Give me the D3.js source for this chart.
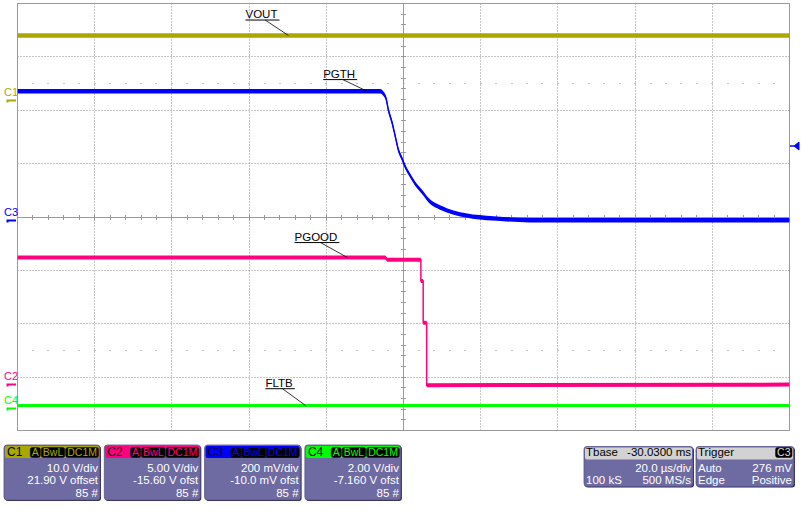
<!DOCTYPE html>
<html lang="en">
<head>
    <meta charset="UTF-8">
    <title>Scope capture</title>
    <script src="https://d3js.org/d3.v7.min.js"></script>
    <style>
        body { margin: 0; background: #fff; }
        svg text { font-family: "Liberation Sans", Arial, sans-serif; }
    </style>
</head>
<body>
    <div id="scope"></div>
    <script>
        // time base, us (20 us/div, trigger in the middle)
        const timeDomain = [-100, 100]
        const timeMajor = d3.range(-100, 101, 20)
        const timeMinor = d3.range(-100, 100.1, 4)

        // channel descriptors
        const channels = ["C1", "C2", "C3", "C4"]
        const voltsPerDiv = [10, 5, 0.2, 2]
        const offsets = [21.9, -15.6, -0.01, -7.16]
        const voltsPerDivText = ["10.0 V/div", "5.00 V/div", "200 mV/div", "2.00 V/div"]
        const offsetText = ["21.90 V offset", "-15.60 V ofst", "-10.0 mV ofst", "-7.160 V ofst"]
        const sweepText = ["85 #", "85 #", "85 #", "85 #"]
        const tagText = ["A", "BwL", "DC1M"]

        // waveforms: time (us) / value (V)
        const voutT = [-100, 100]
        const voutV = [12.1, 12.1]
        const pgthT = [-100, -6.0, -5.2, -4.5, -3.9, -3.0, -2.1, -1.3, -0.4, 0.5, 1.7, 3.0, 4.8, 6.5, 8.7, 11.2, 14.7, 19.0, 24.2, 32.8, 100]
        const pgthV = [0.481, 0.481, 0.472, 0.453, 0.410, 0.366, 0.310, 0.260, 0.229, 0.197, 0.166, 0.135, 0.104, 0.073, 0.051, 0.035, 0.020, 0.010, 0.004, -0.002, -0.002]
        const pgoodT = [-100, -4.7, -4.2, 4.5, 4.5, 5.1, 5.1, 6.0, 6.0, 100]
        const pgoodV = [11.8, 11.8, 11.6, 11.6, 9.6, 9.6, 5.7, 5.7, -0.15, -0.1]
        const fltbT = [-100, 100]
        const fltbV = [0.1, 0.1]

        // trace labels
        const traceNames = ["VOUT", "PGTH", "PGOOD", "FLTB"]
        const labelTimes = [-29.8, -9.4, -14.5, -25.4]

        // timebase / trigger boxes
        const tbaseRows = [["Tbase", "-30.0300 ms"], ["", "20.0 \u00b5s/div"], ["100 kS", "500 MS/s"]]
        const triggerRows = [["Trigger", "C3"], ["Auto", "276 mV"], ["Edge", "Positive"]]
        const triggerLevel = 0.276

        const colors = ["#aaa800", "#ff0080", "#0000ff", "#00ff00"]
        const W = 805, H = 517
        const plot = {left: 17.5, right: 789.5, top: 3.5, bottom: 430.5}

        const svg = d3.select("#scope").append("svg")
            .attr("width", W)
            .attr("height", H)

        const x = d3.scaleLinear().domain(timeDomain).range([plot.left, plot.right])
        const yDiv = d3.scaleLinear().domain([-4, 4]).range([plot.bottom, plot.top])
        // one vertical scale per channel: shown value = V + offset
        const yChan = channels.map((c, i) => d3.scaleLinear()
            .domain([-4 * voltsPerDiv[i] - offsets[i], 4 * voltsPerDiv[i] - offsets[i]])
            .range([plot.bottom, plot.top]))

        const px = v => Math.round(v - 0.5) + 0.5

        // grid
        const grid = svg.append("g")
        grid.selectAll(".vg").data(timeMajor.filter(t => t !== 0 && Math.abs(t) !== 100)).join("line")
            .attr("x1", d => px(x(d))).attr("x2", d => px(x(d)))
            .attr("y1", plot.top).attr("y2", plot.bottom)
            .attr("stroke", "#8c8c8c").attr("stroke-dasharray", "1,2")
        grid.selectAll(".hg").data(d3.range(-3, 4).filter(d => d !== 0)).join("line")
            .attr("class", "hg")
            .attr("x1", plot.left).attr("x2", plot.right)
            .attr("y1", d => px(yDiv(d))).attr("y2", d => px(yDiv(d)))
            .attr("stroke", "#8c8c8c").attr("stroke-dasharray", "1,2")

        // dotted rows at +-2.5 div
        grid.selectAll(".dots").data([2.5, -2.5]).join("g")
            .each(function(r){
                d3.select(this).selectAll("rect").data(timeMinor.slice(1, -1)).join("rect")
                    .attr("x", d => Math.round(x(d)) - 0.5)
                    .attr("y", px(yDiv(r)) - 0.5)
                    .attr("width", 1).attr("height", 1)
                    .attr("fill", "#8c8c8c")
            })

        // centre axes with minor ticks
        const cx = px(x(0)), cy = px(yDiv(0))
        grid.append("line").attr("x1", cx).attr("x2", cx).attr("y1", plot.top).attr("y2", plot.bottom).attr("stroke", "#999")
        grid.append("line").attr("x1", plot.left).attr("x2", plot.right).attr("y1", cy).attr("y2", cy).attr("stroke", "#999")
        grid.selectAll(".tx").data(timeMinor).join("line")
            .attr("x1", d => px(x(d))).attr("x2", d => px(x(d)))
            .attr("y1", cy - 2.5).attr("y2", cy + 2.5).attr("stroke", "#999")
        grid.selectAll(".ty").data(d3.range(-4, 4.01, 0.2)).join("line")
            .attr("y1", d => px(yDiv(d))).attr("y2", d => px(yDiv(d)))
            .attr("x1", cx - 2.5).attr("x2", cx + 2.5).attr("stroke", "#999")

        // frame
        svg.append("rect")
            .attr("x", plot.left).attr("y", plot.top)
            .attr("width", plot.right - plot.left).attr("height", plot.bottom - plot.top)
            .attr("fill", "none").attr("stroke", "#999")

        svg.append("clipPath").attr("id", "clip").append("rect")
            .attr("x", plot.left).attr("y", plot.top)
            .attr("width", plot.right - plot.left).attr("height", plot.bottom - plot.top)

        // traces: noise band + thin line
        const traces = [
            {name: traceNames[0], ch: 0, t: voutT, v: voutV, band: 2.2, curve: d3.curveLinear},
            {name: traceNames[1], ch: 2, t: pgthT, v: pgthV, band: 2.2, curve: d3.curveMonotoneX},
            {name: traceNames[2], ch: 1, t: pgoodT, v: pgoodV, band: 2, curve: d3.curveLinear},
            {name: traceNames[3], ch: 3, t: fltbT, v: fltbV, band: 1.5, curve: d3.curveLinear}
        ]
        const traceG = svg.append("g").attr("clip-path", "url(#clip)")
        traces.forEach(tr => {
            const pts = tr.t.map((t, i) => [t, tr.v[i]])
            const ys = yChan[tr.ch]
            traceG.append("path")
                .attr("d", d3.area().curve(tr.curve)
                    .x(d => x(d[0])).y0(d => ys(d[1]) - tr.band).y1(d => ys(d[1]) + tr.band)(pts))
                .attr("fill", colors[tr.ch])
            traceG.append("path")
                .attr("d", d3.line().curve(tr.curve).x(d => x(d[0])).y(d => ys(d[1]))(pts))
                .attr("fill", "none").attr("stroke", colors[tr.ch]).attr("stroke-width", 1.5)
        })

        // trace labels with leader lines
        const labelOffsets = [{dx: -43, dy: -15.5}, {dx: -44, dy: -11.7}, {dx: -53, dy: -15}, {dx: -40, dy: -16.7}]
        traces.forEach((tr, i) => {
            const t = labelTimes[i]
            const ax = x(t)
            const av = tr.v[d3.bisectRight(tr.t, t) - 1]
            const ay = yChan[tr.ch](av)
            const g = svg.append("g")
            const lx = ax + labelOffsets[i].dx, ly = ay + labelOffsets[i].dy
            const txt = g.append("text")
                .attr("x", lx).attr("y", ly - 2)
                .attr("font-size", 11.5).attr("fill", "#000")
                .text(tr.name)
            const tw = txt.node().getComputedTextLength() + 2
            g.append("line").attr("x1", lx).attr("x2", lx + tw).attr("y1", ly).attr("y2", ly)
                .attr("stroke", "#000")
            g.append("line").attr("x1", lx + tw * 0.58).attr("y1", ly).attr("x2", ax).attr("y2", ay)
                .attr("stroke", "#000").attr("stroke-width", 0.8)
        })

        // ground markers on the left
        channels.forEach((c, i) => {
            const g0 = Math.round(yChan[i](0))
            svg.append("text").attr("x", 4).attr("y", g0 - 4)
                .attr("font-size", 11).attr("fill", colors[i]).text(c)
            svg.append("path").attr("d", `M7.5,${g0 + 2.5} V${g0 + 0.5} H16`)
                .attr("fill", "none").attr("stroke", colors[i]).attr("stroke-width", 2)
        })

        // trigger level marker on the right (C3)
        const ty = yChan[2](triggerLevel)
        svg.append("path")
            .attr("d", `M790,${ty} H794 L799,${ty - 4} V${ty + 4} L794,${ty} Z`)
            .attr("fill", colors[2]).attr("stroke", colors[2]).attr("stroke-width", 1)

        // descriptor boxes
        function box(x0, y0, w, h, headFill){
            const g = svg.append("g")
            g.append("rect").attr("x", x0 + 1).attr("y", y0 + 1).attr("width", w).attr("height", h)
                .attr("rx", 3).attr("fill", "#2a283f")
            g.append("rect").attr("x", x0).attr("y", y0).attr("width", w).attr("height", h)
                .attr("rx", 3).attr("fill", "#6e6aa2").attr("stroke", "#55528a").attr("stroke-width", 0.8)
            g.append("rect").attr("x", x0 + 1).attr("y", y0 + 1).attr("width", w - 2).attr("height", 12)
                .attr("rx", 2).attr("fill", headFill)
            return g
        }
        function tag(g, xr, label, fg){
            const t = g.append("text").attr("x", xr - 1.5).attr("y", 455.5)
                .attr("text-anchor", "end").attr("font-size", 10.5).attr("fill", fg).text(label)
            const tw = t.node().getComputedTextLength() + 3
            g.insert("rect", "text:last-of-type")
                .attr("x", xr - tw).attr("y", 447.5).attr("width", tw).attr("height", 10)
                .attr("rx", 2).attr("fill", "#000").attr("stroke", "#111").attr("stroke-width", 0.6)
            t.raise()
            return xr - tw - 1
        }
        const rowY = [471.5, 484, 496.5]

        channels.forEach((c, i) => {
            const x0 = 4 + i * 100.3, w = 96
            const g = box(x0, 445, w, 55, colors[i])
            g.append("text").attr("x", x0 + 3).attr("y", 456).attr("font-size", 12).attr("fill", "#000").text(c)
            let xr = x0 + w - 1.5
            tagText.slice().reverse().forEach(tg => { xr = tag(g, xr, tg, colors[i]) })
            ;[voltsPerDivText[i], offsetText[i], sweepText[i]].forEach((s, k) => {
                g.append("text").attr("x", x0 + w - 2).attr("y", rowY[k])
                    .attr("text-anchor", "end").attr("font-size", 11.5).attr("fill", "#fff").text(s)
            })
        })

        function infoBox(x0, w, rows, headTag){
            const g = box(x0, 446.5, w, 40, "#d2d2d2")
            rows.forEach((r, k) => {
                const y = k === 0 ? 456 : rowY[k - 1]
                const fill = k === 0 ? "#000" : "#fff"
                g.append("text").attr("x", x0 + 2).attr("y", y).attr("font-size", 11.5).attr("fill", fill).text(r[0])
                if (k === 0 && headTag) {
                    tag(g, x0 + w - 2, r[1], "#ddd")
                } else {
                    g.append("text").attr("x", x0 + w - 2).attr("y", y).attr("text-anchor", "end")
                        .attr("font-size", 11.5).attr("fill", fill).text(r[1])
                }
            })
        }
        infoBox(584, 109, tbaseRows, false)
        infoBox(696, 98, triggerRows, true)
    </script>
</body>
</html>
